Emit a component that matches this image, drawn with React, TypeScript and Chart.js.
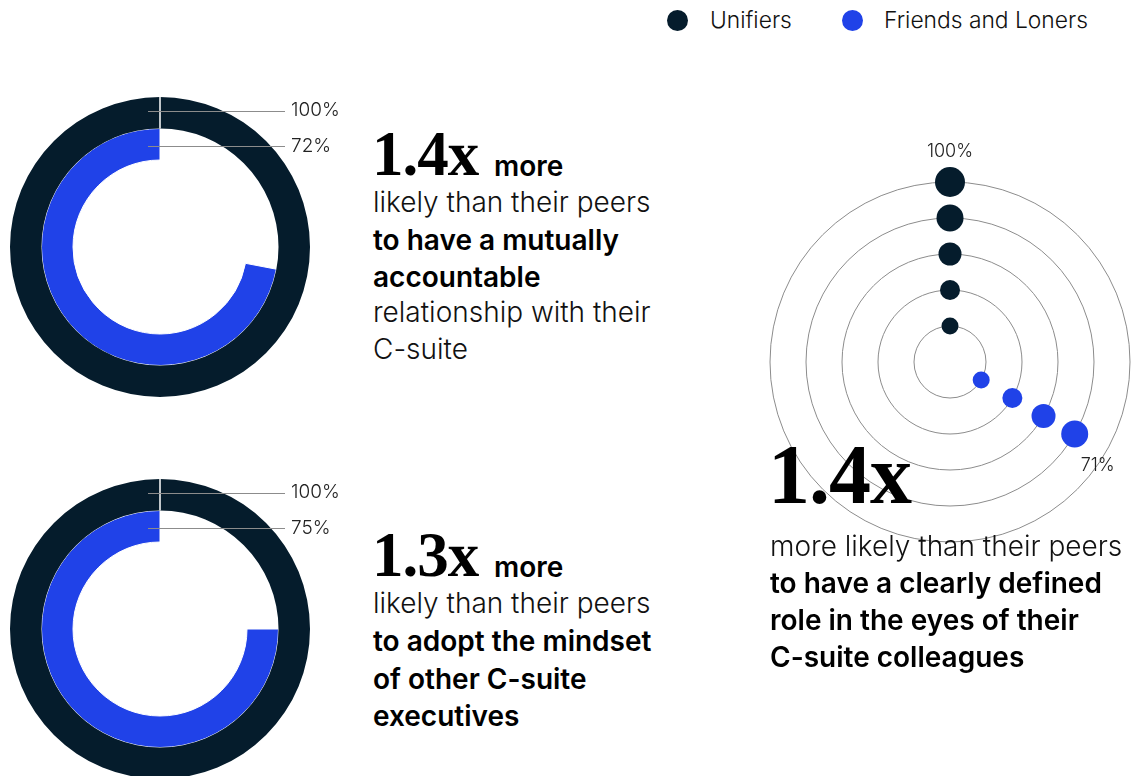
import React, { useEffect, useRef } from "react";
import { Chart, registerables } from "chart.js";

Chart.register(...registerables);

const DARK = "#051c2c";
const BLUE = "#2042e8";
const GRID = "#8c8c8c";
const SANS = "Inter, 'Noto Sans', sans-serif";
const SERIF = "'Liberation Serif', 'DejaVu Serif', serif";

// ---- data ----
const seriesNames = ["Unifiers", "Friends and Loners"];
const donut1Values = [100, 72];
const donut1Labels = ["100%", "72%"];
const donut2Values = [100, 75];
const donut2Labels = ["100%", "75%"];
const radarSpokes = ["Unifiers", "Friends and Loners", ""];
const unifierLevels = [1, 2, 3, 4, 5];
const unifierSizes = [8.5, 10, 11.5, 13.5, 15];
const friendLevels = [1, 2, 3, 4];
const friendSizes = [8.5, 10, 12, 13.5];
const radarLabels = ["100%", "71%"];

function leaderPlugin(labels: string[]) {
  return {
    id: "leaders",
    afterDatasetsDraw(chart: any) {
      const ctx = chart.ctx as CanvasRenderingContext2D;
      ctx.save();
      const outer = chart.getDatasetMeta(0).data[1].getProps(["x", "y", "innerRadius", "outerRadius"], true);
      ctx.strokeStyle = "#ffffff";
      ctx.lineWidth = 1.5;
      ctx.beginPath();
      ctx.moveTo(outer.x, outer.y - outer.innerRadius);
      ctx.lineTo(outer.x, outer.y - outer.outerRadius - 1);
      ctx.stroke();
      [0, 1].forEach((i) => {
        const p = chart.getDatasetMeta(i).data[1].getProps(["x", "y", "innerRadius", "outerRadius"], true);
        const rr = i === 0 ? p.outerRadius - 14 : p.innerRadius + 14.5;
        const yy = Math.round(p.y - rr) + 0.5;
        ctx.strokeStyle = GRID;
        ctx.lineWidth = 1;
        ctx.beginPath();
        ctx.moveTo(p.x - 12, yy);
        ctx.lineTo(p.x + 125, yy);
        ctx.stroke();
        ctx.fillStyle = "#222";
        ctx.font = `300 19px ${SANS}`;
        ctx.textBaseline = "middle";
        ctx.textAlign = "left";
        ctx.fillText(labels[i], p.x + 131, yy - (i === 0 ? 1.5 : 0));
      });
      ctx.restore();
    },
  };
}

function Donut({ values, labels, left, top }: { values: number[]; labels: string[]; left: number; top: number }) {
  const ref = useRef<HTMLCanvasElement>(null);
  useEffect(() => {
    const chart = new Chart(ref.current as HTMLCanvasElement, {
      type: "doughnut",
      data: {
        labels: ["rest", "value"],
        datasets: [
          {
            label: seriesNames[0],
            data: [100 - values[0], values[0]],
            backgroundColor: ["rgba(0,0,0,0)", DARK],
            borderWidth: 0,
          },
          {
            label: seriesNames[1],
            data: [100 - values[1], values[1]],
            backgroundColor: ["rgba(0,0,0,0)", BLUE],
            borderColor: "#ffffff",
            borderWidth: 1,
          },
        ],
      },
      options: {
        responsive: false,
        animation: false,
        events: [],
        cutout: "58%",
        layout: { padding: { right: 50 } },
        plugins: { legend: { display: false }, tooltip: { enabled: false } },
      },
      plugins: [leaderPlugin(labels)],
    } as any);
    return () => chart.destroy();
  }, []);
  return <canvas ref={ref} width={350} height={300} style={{ position: "absolute", left, top, width: 350, height: 300 }} />;
}

const radarLabelPlugin = {
  id: "radarLabels",
  afterDatasetsDraw(chart: any) {
    const ctx = chart.ctx as CanvasRenderingContext2D;
    const r = chart.scales.r;
    ctx.save();
    ctx.fillStyle = "#222";
    ctx.font = `300 18px ${SANS}`;
    ctx.textAlign = "center";
    ctx.textBaseline = "alphabetic";
    const top = r.getPointPositionForValue(0, unifierLevels[unifierLevels.length - 1]);
    ctx.fillText(radarLabels[0], top.x, top.y - 25);
    const last = r.getPointPositionForValue(1, friendLevels[friendLevels.length - 1]);
    ctx.fillText(radarLabels[1], last.x + 23, last.y + 37);
    ctx.restore();
  },
};

function Radial({ left, top }: { left: number; top: number }) {
  const ref = useRef<HTMLCanvasElement>(null);
  useEffect(() => {
    const datasets = unifierLevels.map((lvl, k) => {
      const f = k < friendLevels.length ? friendLevels[k] : null;
      return {
        label: "ring " + lvl,
        data: [lvl, f, null],
        showLine: false,
        fill: false,
        borderWidth: 0,
        clip: false,
        pointBackgroundColor: [DARK, BLUE, "rgba(0,0,0,0)"],
        pointBorderWidth: 0,
        pointRadius: [unifierSizes[k], k < friendSizes.length ? friendSizes[k] : 0, 0],
      };
    });
    const chart = new Chart(ref.current as HTMLCanvasElement, {
      type: "radar",
      data: { labels: radarSpokes, datasets },
      options: {
        responsive: false,
        animation: false,
        events: [],
        layout: { padding: 50 },
        plugins: { legend: { display: false }, tooltip: { enabled: false } },
        scales: {
          r: {
            min: 0,
            max: 5,
            ticks: { display: false, stepSize: 1 },
            grid: { circular: true, color: GRID, lineWidth: 1 },
            angleLines: { display: false },
            pointLabels: { display: false },
          },
        },
      },
      plugins: [radarLabelPlugin],
    } as any);
    return () => chart.destroy();
  }, []);
  return <canvas ref={ref} width={460} height={460} style={{ position: "absolute", left, top, width: 460, height: 460 }} />;
}

function T({ x, b, size, weight = 300, serif = false, children }: any) {
  const k = serif ? 0.8375 : 0.8637;
  return (
    <div
      style={{
        position: "absolute",
        left: x,
        top: b - k * size,
        fontSize: size,
        lineHeight: size + "px",
        fontFamily: serif ? SERIF : SANS,
        fontWeight: weight,
        whiteSpace: "nowrap",
        color: serif ? "#000" : weight > 400 ? "#000" : "#111",
        letterSpacing: serif ? "-1px" : "normal",
      }}
    >
      {children}
    </div>
  );
}

function Dot({ cx, cy, color }: { cx: number; cy: number; color: string }) {
  return (
    <div
      style={{ position: "absolute", left: cx - 10.5, top: cy - 10.5, width: 21, height: 21, borderRadius: "50%", background: color }}
    />
  );
}

const BODY = 28;

export default function App() {
  return (
    <div style={{ position: "absolute", left: 0, top: 0, width: 1136, height: 776, overflow: "hidden", background: "#fff" }}>
      <Dot cx={677.5} cy={20.5} color={DARK} />
      <T x={710} b={29} size={22.8}>{seriesNames[0]}</T>
      <Dot cx={852.5} cy={20.5} color={BLUE} />
      <T x={884} b={29} size={22.8}>{seriesNames[1]}</T>

      <Donut values={donut1Values} labels={donut1Labels} left={10} top={97} />
      <Donut values={donut2Values} labels={donut2Labels} left={10} top={479} />
      <Radial left={720} top={132} />

      <T x={372} b={176} size={63} serif weight={700}>1.4x</T>
      <T x={494} b={176} size={BODY} weight={600}>more</T>
      <T x={373} b={212} size={BODY}>likely than their peers</T>
      <T x={373} b={250} size={BODY} weight={600}>to have a mutually</T>
      <T x={373} b={287} size={BODY} weight={600}>accountable</T>
      <T x={373} b={322} size={BODY}>relationship with their</T>
      <T x={373} b={359} size={BODY}>C-suite</T>

      <T x={372} b={577} size={63} serif weight={700}>1.3x</T>
      <T x={494} b={577} size={BODY} weight={600}>more</T>
      <T x={373} b={613} size={BODY}>likely than their peers</T>
      <T x={373} b={651} size={BODY} weight={600}>to adopt the mindset</T>
      <T x={373} b={689} size={BODY} weight={600}>of other C-suite</T>
      <T x={373} b={726} size={BODY} weight={600}>executives</T>

      <T x={768} b={503} size={84} serif weight={700}>1.4x</T>
      <T x={770} b={556} size={BODY}>more likely than their peers</T>
      <T x={770} b={593} size={BODY} weight={600}>to have a clearly defined</T>
      <T x={770} b={630} size={BODY} weight={600}>role in the eyes of their</T>
      <T x={770} b={667} size={BODY} weight={600}>C-suite colleagues</T>
    </div>
  );
}
